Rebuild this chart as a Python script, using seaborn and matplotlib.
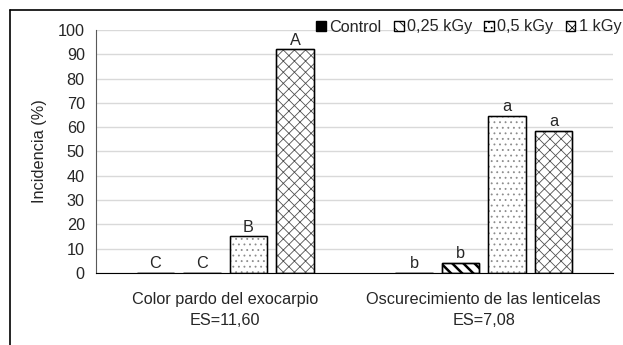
import matplotlib
matplotlib.use("Agg")
from matplotlib import pyplot as plt
from matplotlib.lines import Line2D
from matplotlib.patches import Patch, Rectangle
import numpy as np
import pandas
import seaborn as sns

# data
categories = ["Color pardo del exocarpio\nES=11,60", "Oscurecimiento de las lenticelas\nES=7,08"]
doses = ["Control", "0,25 kGy", "0,5 kGy", "1 kGy"]
incidence = {
    "Control": [0, 0],
    "0,25 kGy": [0, 4],
    "0,5 kGy": [15, 64.5],
    "1 kGy": [92, 58.5],
}
letters = {
    "Control": ["C", "b"],
    "0,25 kGy": ["C", "b"],
    "0,5 kGy": ["B", "a"],
    "1 kGy": ["A", "a"],
}
hatches = {"Control": "", "0,25 kGy": "\\\\\\", "0,5 kGy": "...", "1 kGy": "xxx"}
hatch_colors = {"Control": "black", "0,25 kGy": "black", "0,5 kGy": "#8c8c8c", "1 kGy": "#505050"}
fills = {"Control": "black", "0,25 kGy": "white", "0,5 kGy": "white", "1 kGy": "white"}

rows = []
for d in doses:
    for c, v in zip(categories, incidence[d]):
        rows.append({"cat": c, "dose": d, "val": v})
df = pandas.DataFrame(rows)

sns.set_style("white")
plt.rcParams["font.family"] = ["Liberation Sans", "DejaVu Sans"]
plt.rcParams["hatch.linewidth"] = 0.6
fs = 11.7

fig = plt.figure(figsize=(6.23, 3.45), dpi=100)
ax = fig.add_axes([0.154, 0.209, 0.83, 0.704])

g = sns.barplot(data=df, x="cat", y="val", hue="dose", hue_order=doses, order=categories,
                palette=fills, width=0.72, gap=0.2, edgecolor="black", linewidth=1.0,
                legend=False, ax=ax)

# hatch (in its own colour) + black outline + letters
for d, cont in zip(doses, ax.containers):
    for bar, lab in zip(cont, letters[d]):
        bar.set_hatch(hatches[d])
        bar.set_edgecolor(hatch_colors[d])
        if d == "0,25 kGy" and hasattr(bar, "set_hatch_linewidth"):
            bar.set_hatch_linewidth(1.8)
        outline = Rectangle((bar.get_x(), bar.get_y()), bar.get_width(), bar.get_height(),
                            fill=False, edgecolor="black", linewidth=1.0, zorder=bar.get_zorder() + 0.1)
        ax.add_patch(outline)
        x = bar.get_x() + bar.get_width() / 2
        ax.text(x, bar.get_height() + 0.8, lab, ha="center", va="bottom", fontsize=fs)

ax.set_ylim(0, 100)
ax.set_xlim(-0.5, 1.5)
ax.set_yticks(np.arange(0, 101, 10))
ax.yaxis.grid(True, color="#d9d9d9", linewidth=1)
ax.set_axisbelow(True)
for s in ["top", "right"]:
    ax.spines[s].set_visible(False)
ax.spines["left"].set_color("#595959")
ax.spines["bottom"].set_color("black")
ax.spines["bottom"].set_zorder(5)
ax.tick_params(axis="both", length=0, labelsize=fs, pad=8)
ax.tick_params(axis="x", pad=14)
ax.set_xlabel("")
ax.set_ylabel("Incidencia (%)", fontsize=fs, labelpad=8)
for t in ax.get_xticklabels():
    t.set_linespacing(1.45)

# legend
handles = [Patch(facecolor=fills[d], edgecolor="black", hatch=hatches[d], label=d) for d in doses]
fig.legend(handles=handles, loc="lower left", bbox_to_anchor=(0.508, 0.9), ncol=4,
           frameon=False, fontsize=fs, handlelength=0.6, handleheight=0.6,
           handletextpad=0.2, columnspacing=0.75, borderaxespad=0, borderpad=0)

# outer frame (left and top edges visible)
fig.add_artist(Line2D([0.016, 0.016], [0, 0.971], color="black", linewidth=1.2, transform=fig.transFigure))
fig.add_artist(Line2D([0.016, 1.0], [0.971, 0.971], color="black", linewidth=1.2, transform=fig.transFigure))

fig.savefig("out.png", dpi=100)
